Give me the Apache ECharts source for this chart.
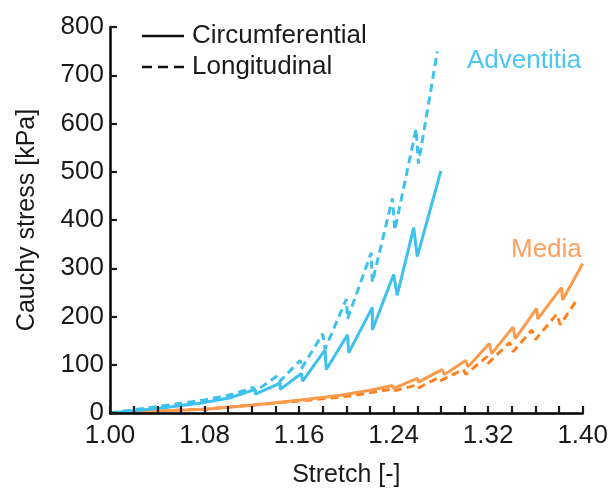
<!DOCTYPE html>
<html><head><meta charset="utf-8">
<script src="https://cdn.jsdelivr.net/npm/echarts@6/dist/echarts.min.js"></script>
<style>html,body{margin:0;padding:0;background:#fff}#c{width:611px;height:493px}</style>
</head><body><div id="c"></div>
<script>
// Stretch [-] / Cauchy stress [kPa]
const adventitiaCircX = [1.000,1.042,1.076,1.101,1.123,1.123,1.144,1.144,1.162,1.163,1.182,1.183,1.201,1.202,1.222,1.222,1.240,1.243,1.257,1.260,1.280];
const adventitiaCircY = [0,10,20,31,49,39,62,49,82,66,131,90,162,125,219,172,287,244,384,324,502];
const adventitiaLongX = [1.000,1.042,1.080,1.104,1.121,1.123,1.141,1.143,1.161,1.162,1.180,1.182,1.200,1.201,1.221,1.222,1.239,1.241,1.259,1.261,1.277];
const adventitiaLongY = [0,14,27,39,53,45,76,64,109,92,164,133,236,195,332,271,445,379,589,517,749];
const mediaCircX = [1.000,1.042,1.080,1.120,1.161,1.195,1.220,1.239,1.240,1.260,1.261,1.281,1.283,1.301,1.303,1.321,1.323,1.341,1.343,1.361,1.362,1.382,1.383,1.400];
const mediaCircY = [0,4,8,16,27,37,47,57,51,72,64,90,80,109,96,144,123,178,154,217,195,260,234,310];
const mediaLongX = [1.000,1.080,1.161,1.203,1.237,1.239,1.258,1.260,1.277,1.279,1.299,1.301,1.319,1.320,1.338,1.341,1.357,1.360,1.378,1.381,1.396];
const mediaLongY = [0,8,25,35,49,45,57,51,72,66,90,80,117,103,146,127,172,152,205,183,238];
const yTicks = [0,100,200,300,400,500,600,700,800];
const xTicks = [1.00,1.08,1.16,1.24,1.32,1.40];
const legendNames = ['Circumferential', 'Longitudinal'];

const zip = (xs, ys) => xs.map((x, i) => [x, ys[i]]);
const BLUE = '#3FC1EE', ORANGE = '#FB9B4D', ORANGE_D = '#FF8020';
const FONT = 'Liberation Sans';
const TXT = '#1a1a1a';
const TICK = '#1c1c1c';

const chart = echarts.init(document.getElementById('c'), null, {renderer: 'canvas'});
chart.setOption({
  animation: false,
  grid: {left: 110, right: 28, top: 27, bottom: 76},
  xAxis: {
    type: 'value', min: xTicks[0], max: xTicks[xTicks.length - 1], interval: 0.08, z: 10,
    name: 'Stretch [-]', nameLocation: 'middle', nameGap: 50,
    nameTextStyle: {fontFamily: FONT, fontSize: 25, color: TXT},
    axisLine: {show: true, onZero: false, lineStyle: {color: '#000', width: 2.5}},
    axisTick: {show: true, inside: true, length: 7, lineStyle: {color: TICK, width: 2.2}},
    minorTick: {show: true, splitNumber: 4, length: 7, lineStyle: {color: TICK, width: 2.2}},
    axisLabel: {fontFamily: FONT, fontSize: 26, color: TXT, margin: 10, formatter: v => v.toFixed(2)},
    splitLine: {show: false}
  },
  yAxis: {
    type: 'value', min: yTicks[0], max: yTicks[yTicks.length - 1], interval: 100, z: 10,
    name: 'Cauchy stress [kPa]', nameLocation: 'middle', nameGap: 70,
    nameTextStyle: {fontFamily: FONT, fontSize: 25, color: TXT},
    axisLine: {show: true, lineStyle: {color: '#000', width: 2.5}},
    axisTick: {show: true, inside: true, length: 7, lineStyle: {color: TICK, width: 2.2}},
    axisLabel: {fontFamily: FONT, fontSize: 26, color: TXT, margin: 6},
    splitLine: {show: false}
  },
  graphic: [
    {type: 'line', shape: {x1: 142, y1: 36, x2: 184, y2: 36}, style: {stroke: '#111', lineWidth: 2.5}},
    {type: 'line', shape: {x1: 142, y1: 67, x2: 184, y2: 67}, style: {stroke: '#111', lineWidth: 2.5, lineDash: [10, 6]}},
    {type: 'text', x: 192, y: 36, style: {text: legendNames[0], fill: TXT, font: '26px "Liberation Sans"', verticalAlign: 'middle'}},
    {type: 'text', x: 192, y: 67, style: {text: legendNames[1], fill: TXT, font: '26px "Liberation Sans"', verticalAlign: 'middle'}},
    {type: 'text', x: 467, y: 61, style: {text: 'Adventitia', fill: '#4FC6F0', font: '26px "Liberation Sans"', verticalAlign: 'middle'}},
    {type: 'text', x: 511, y: 250, style: {text: 'Media', fill: '#FBA060', font: '26px "Liberation Sans"', verticalAlign: 'middle'}}
  ],
  series: [
    {name: 'Media longitudinal', type: 'line', data: zip(mediaLongX, mediaLongY), symbol: 'none', color: ORANGE_D, lineStyle: {color: ORANGE_D, width: 3, type: [8, 5]}, z: 2},
    {name: 'Media circumferential', type: 'line', data: zip(mediaCircX, mediaCircY), symbol: 'none', color: ORANGE, lineStyle: {color: ORANGE, width: 3}, z: 3},
    {name: 'Adventitia longitudinal', type: 'line', data: zip(adventitiaLongX, adventitiaLongY), symbol: 'none', color: BLUE, lineStyle: {color: BLUE, width: 3, type: [8, 5]}, z: 4},
    {name: 'Adventitia circumferential', type: 'line', data: zip(adventitiaCircX, adventitiaCircY), symbol: 'none', color: BLUE, lineStyle: {color: BLUE, width: 3}, z: 5}
  ]
});
</script></body></html>
